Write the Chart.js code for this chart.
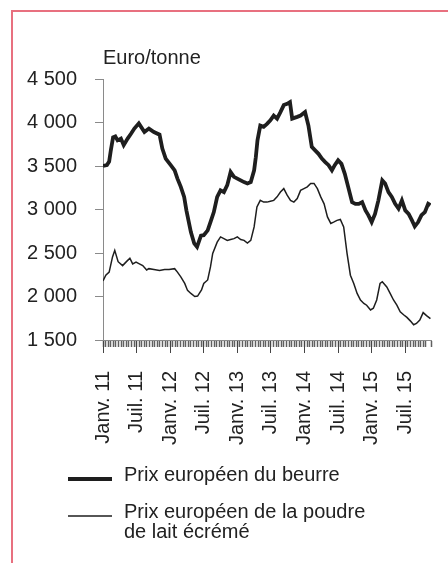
<!DOCTYPE html>
<html>
<head>
<meta charset="UTF-8">
<title>Prix européens du beurre et de la poudre de lait</title>
<script src="https://cdn.jsdelivr.net/npm/chart.js@4/dist/chart.umd.min.js"></script>
<style>
  html, body { margin: 0; padding: 0; background: #fff; }
  #wrap { position: relative; width: 448px; height: 563px; overflow: hidden; }
  #frame { position: absolute; left: 11px; top: 10px; width: 500px; height: 600px;
           border-left: 2px solid #e8707f; border-top: 2px solid #e8707f; }
  canvas { position: absolute; left: 0; top: 0; }
</style>
</head>
<body>
<div id="wrap">
  <div id="frame"></div>
  <canvas id="myChart" width="448" height="563"></canvas>
</div>

<script>
  // mois depuis janvier 2011 -> prix (euro/tonne)
  const butterMonths = [0, 0.7, 1.1, 1.4, 1.8, 2.2, 2.6, 3.2, 3.7, 4.4, 5.0, 5.6, 6.4, 7.4, 8.2, 9.1,
    10.1, 10.6, 11.2, 12.1, 12.8, 13.3, 13.9, 14.5, 14.9, 15.7, 16.3, 16.8, 17.5, 18.0, 18.7, 19.2,
    19.8, 20.4, 21.0, 21.6, 22.2, 22.8, 23.4, 24.0, 24.6, 25.2, 25.8, 26.4, 27.0, 27.3, 27.6, 28.1,
    28.7, 29.3, 29.9, 30.5, 31.1, 31.7, 32.3, 32.9, 33.4, 33.8, 34.7, 35.3, 36.1, 36.7, 37.3, 37.9,
    38.5, 39.1, 39.7, 40.3, 40.9, 41.4, 42.0, 42.6, 43.2, 43.8, 44.5, 45.1, 45.7, 46.3, 46.9, 47.4,
    48.0, 48.6, 49.2, 49.9, 50.4, 51.0, 51.6, 52.2, 52.8, 53.4, 54.0, 54.6, 55.2, 55.7, 56.3, 56.9,
    57.5, 58.1, 58.5];
  const butterPrices = [3500, 3510, 3550, 3680, 3830, 3840, 3795, 3815, 3740, 3815, 3870, 3930, 3990, 3890, 3930, 3890,
    3860, 3700, 3585, 3510, 3450, 3355, 3260, 3145, 2990, 2740, 2610, 2570, 2700, 2705, 2760, 2855,
    2970, 3145, 3220, 3200, 3280, 3430, 3375, 3355, 3335, 3315, 3300, 3315, 3450, 3600, 3795, 3965,
    3950, 3985, 4025, 4080, 4045, 4120, 4200, 4215, 4235, 4045, 4065, 4080, 4120, 3965, 3720, 3680,
    3640, 3585, 3545, 3510, 3450, 3510, 3565, 3525, 3410, 3260, 3085, 3065, 3065, 3085, 2990, 2935,
    2855, 2950, 3105, 3335, 3300, 3200, 3145, 3065, 3010, 3105, 2990, 2950, 2875, 2805, 2855, 2935,
    2970, 3065, 3050];

  const smpMonths = [0, 0.5, 1.1, 1.7, 2.1, 2.7, 3.5, 4.1, 4.8, 5.3, 5.9, 6.5, 7.1, 7.8, 8.2, 9.1,
    10.1, 11.0, 11.8, 12.8, 13.3, 13.9, 14.6, 15.1, 15.7, 16.4, 16.9, 17.6, 18.0, 18.7, 19.2, 19.6,
    20.4, 21.0, 21.6, 22.2, 22.8, 23.4, 24.0, 24.6, 25.2, 25.8, 26.4, 27.0, 27.5, 28.1, 28.7, 29.3,
    29.9, 30.5, 31.1, 31.7, 32.3, 32.9, 33.5, 34.1, 34.7, 35.3, 35.9, 36.5, 37.1, 37.7, 38.3, 38.9,
    39.5, 40.1, 40.7, 41.2, 41.8, 42.4, 43.0, 43.6, 44.2, 44.8, 45.4, 46.0, 46.6, 47.1, 47.8, 48.3,
    48.9, 49.5, 49.9, 50.7, 51.3, 51.9, 52.5, 53.1, 53.7, 54.3, 54.9, 55.5, 56.0, 56.6, 57.2, 57.8,
    58.5];
  const smpPrices = [2180, 2245, 2280, 2455, 2530, 2400, 2355, 2395, 2440, 2375, 2395, 2375, 2355, 2305, 2320, 2310,
    2300, 2310, 2310, 2320, 2280, 2225, 2150, 2070, 2035, 2000, 2005, 2075, 2150, 2190, 2340, 2496,
    2625, 2685, 2665, 2645, 2655, 2665, 2685, 2655, 2645, 2615, 2645, 2800, 3030, 3105, 3085, 3085,
    3095, 3105, 3145, 3200, 3240, 3165, 3105, 3085, 3125, 3220, 3240, 3260, 3300, 3300, 3240, 3145,
    3065, 2915, 2840, 2855, 2875, 2885, 2800, 2495, 2245, 2150, 2035, 1960, 1920, 1900, 1845, 1865,
    1960, 2150, 2170, 2110, 2035, 1960, 1900, 1825, 1790, 1760, 1720, 1675, 1690, 1730, 1815, 1780,
    1745];

  const xLabels = ['Janv. 11', 'Juil. 11', 'Janv. 12', 'Juil. 12', 'Janv. 13', 'Juil. 13',
    'Janv. 14', 'Juil. 14', 'Janv. 15', 'Juil. 15'];
  const yTicks = [1500, 2000, 2500, 3000, 3500, 4000, 4500];
  const unitLabel = 'Euro/tonne';
  const seriesNames = [['Prix européen du beurre'], ['Prix européen de la poudre', 'de lait écrémé']];

  const lastMonth = 58.6;
  const FONT = '"Liberation Sans", Arial, sans-serif';

  function toPoints(xs, ys) {
    return xs.map(function(x, i) { return {x: x, y: ys[i]}; });
  }
  function frNum(v) {
    return String(v).replace(/\B(?=(\d{3})+(?!\d))/g, ' ');
  }
  function noPad(scale) {
    scale.paddingLeft = 0;
    scale.paddingRight = 0;
  }

  // titre d'unité + légende dessinés sous le graphique
  const extras = {
    id: 'extras',
    afterDraw(chart) {
      const ctx = chart.ctx;
      const area = chart.chartArea;
      ctx.save();
      ctx.fillStyle = '#222';
      ctx.font = '20px ' + FONT;
      ctx.textBaseline = 'alphabetic';
      ctx.textAlign = 'left';
      ctx.fillText(unitLabel, area.left, 64);

      const rows = [{y: 479, text: 481}, {y: 516, text: 518}];
      chart.data.datasets.forEach(function(ds, i) {
        ctx.strokeStyle = ds.borderColor;
        ctx.lineWidth = ds.borderWidth;
        ctx.beginPath();
        ctx.moveTo(68, rows[i].y);
        ctx.lineTo(112, rows[i].y);
        ctx.stroke();
        seriesNames[i].forEach(function(line, j) {
          ctx.fillText(line, 124, rows[i].text + j * 20);
        });
      });
      ctx.restore();
    }
  };

  new Chart('myChart', {
    type: 'line',
    data: {
      datasets: [{
        label: seriesNames[0].join(' '),
        data: toPoints(butterMonths, butterPrices),
        xAxisID: 'x',
        yAxisID: 'y',
        borderColor: '#1e1e1e',
        borderWidth: 3.8,
        pointRadius: 0,
        tension: 0,
        fill: false
      }, {
        label: seriesNames[1].join(' '),
        data: toPoints(smpMonths, smpPrices),
        xAxisID: 'x',
        yAxisID: 'y',
        borderColor: '#1e1e1e',
        borderWidth: 1.5,
        pointRadius: 0,
        tension: 0,
        fill: false
      }]
    },
    options: {
      responsive: false,
      animation: false,
      devicePixelRatio: 1,
      layout: { padding: { left: 0, right: 17, top: 79, bottom: 103 } },
      plugins: { legend: { display: false }, tooltip: { enabled: false } },
      scales: {
        xMinor: {
          type: 'linear',
          position: 'bottom',
          weight: 0,
          min: 0,
          max: lastMonth * 13 / 6,
          afterFit(scale) { scale.height = 0; noPad(scale); },
          border: { display: true, color: '#8a8a8a', width: 1 },
          grid: { drawOnChartArea: false, tickLength: 7, tickColor: '#606060', tickWidth: 1.5 },
          ticks: { display: false, stepSize: 1, maxTicksLimit: 500, autoSkip: false }
        },
        x: {
          type: 'linear',
          position: 'bottom',
          weight: 1,
          min: 0,
          max: lastMonth,
          afterFit(scale) { scale.height = 120; noPad(scale); },
          border: { display: false },
          grid: { drawOnChartArea: false, tickLength: 13, tickColor: '#444', tickWidth: 1 },
          ticks: {
            stepSize: 6,
            autoSkip: false,
            includeBounds: false,
            minRotation: 90,
            maxRotation: 90,
            padding: 18,
            color: '#222',
            font: { family: FONT, size: 20 },
            callback: function(v) {
              const i = Math.round(v / 6);
              return (v % 6 === 0 && xLabels[i]) ? xLabels[i] : '';
            }
          }
        },
        y: {
          min: yTicks[0],
          max: yTicks[yTicks.length - 1],
          afterFit(scale) { scale.width = 103; },
          border: { display: true, color: '#8a8a8a', width: 1 },
          grid: { drawOnChartArea: false, tickLength: 8, tickColor: '#8a8a8a' },
          afterBuildTicks(scale) { scale.ticks = yTicks.map(function(v) { return {value: v}; }); },
          ticks: {
            padding: 18,
            color: '#222',
            font: { family: FONT, size: 20 },
            callback: function(v) { return frNum(v); }
          }
        }
      }
    },
    plugins: [extras]
  });
</script>
</body>
</html>
